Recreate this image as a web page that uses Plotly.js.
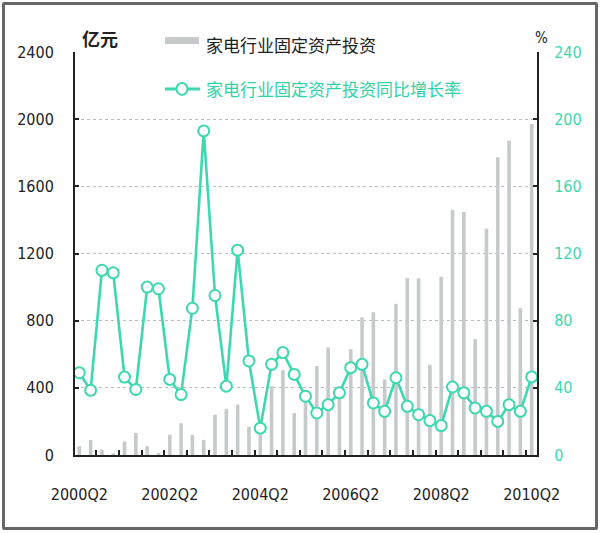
<!DOCTYPE html>
<html>
<head>
<meta charset="utf-8">
<script src="https://cdn.plot.ly/plotly-3.0.1.min.js"></script>
<style>
  html, body { margin: 0; padding: 0; background: #ffffff; }
  #chart { position: absolute; left: 0; top: 0; width: 600px; height: 533px; }
  #frame { position: absolute; left: 2px; top: 2px; width: 596px; height: 528px;
           box-sizing: border-box; border: 3px solid #666; border-radius: 2px; pointer-events: none; }
</style>
</head>
<body>
<div id="chart"></div>
<div id="frame"></div>
<script>
// Quarters (x categories)
const categories = [
  '2000Q2','2000Q3','2000Q4','2001Q1','2001Q2','2001Q3','2001Q4','2002Q1',
  '2002Q2','2002Q3','2002Q4','2003Q1','2003Q2','2003Q3','2003Q4','2004Q1',
  '2004Q2','2004Q3','2004Q4','2005Q1','2005Q2','2005Q3','2005Q4','2006Q1',
  '2006Q2','2006Q3','2006Q4','2007Q1','2007Q2','2007Q3','2007Q4','2008Q1',
  '2008Q2','2008Q3','2008Q4','2009Q1','2009Q2','2009Q3','2009Q4','2010Q1',
  '2010Q2'
];
// 家电行业固定资产投资 (亿元)
const investment = [
  52, 90, 31, 10, 80, 132, 52, 12,
  120, 189, 120, 90, 240, 275, 300, 168,
  120, 410, 505, 250, 330, 530, 640, 370,
  630, 820, 850, 450, 900, 1052, 1052, 537,
  1061, 1461, 1447, 690, 1348, 1773, 1872, 874,
  1971
];
// 家电行业固定资产投资同比增长率 (%)
const growth = [
  49, 38.5, 110, 108.5, 46.4, 39, 100, 99,
  45, 36, 87.4, 193, 95, 41, 122, 56,
  16, 54, 61, 48, 35, 25, 30, 37,
  52, 54, 31, 26, 46, 29, 24, 20.5,
  17.5, 40.5, 37, 28, 26, 20, 30, 26,
  46.5
];
const tickLabels = ['2000Q2','2002Q2','2004Q2','2006Q2','2008Q2','2010Q2'];
const leftTicks = [0, 400, 800, 1200, 1600, 2000, 2400];
const rightTicks = [0, 40, 80, 120, 160, 200, 240];

const seriesNames = ['家电行业固定资产投资', '家电行业固定资产投资同比增长率'];
const unitLeft = '亿元';
const unitRight = '%';

const TEAL = '#3ed8b0';
const BARC = '#c6cacb';
const NUMFONT = '"Liberation Sans Narrow", "DejaVu Sans Condensed", "Arial Narrow", sans-serif';
const CJK = '"Noto Sans CJK SC", "Noto Sans", sans-serif';

const xs = categories.map((c, i) => i);
const tickvals = tickLabels.map(l => categories.indexOf(l));

const traces = [
  {
    type: 'bar', name: seriesNames[0], x: xs, y: investment, yaxis: 'y',
    width: 0.32, marker: { color: BARC, line: { width: 0 } },
    hovertext: categories, showlegend: false
  },
  {
    type: 'scatter', name: seriesNames[1], x: xs, y: growth, yaxis: 'y2',
    mode: 'lines+markers',
    line: { color: TEAL, width: 2.6 },
    marker: { symbol: 'circle', size: 11, color: '#ffffff', line: { color: TEAL, width: 2 } },
    hovertext: categories, showlegend: false
  }
];

// paper coordinate helpers for legend placement (plot area: x 75..537, y 52..455.5)
const px = v => (v - 75) / 462;
const py = v => (455.5 - v) / 403.5;

const layout = {
  width: 600, height: 533,
  margin: { l: 75, r: 63, t: 52, b: 78, pad: 0 },
  paper_bgcolor: '#ffffff', plot_bgcolor: '#ffffff',
  showlegend: false,
  font: { family: NUMFONT, color: '#222' },
  xaxis: {
    range: [-0.38, 40.47], tickmode: 'array', tickvals: tickvals, ticktext: tickLabels,
    ticks: '', showline: true, linecolor: '#222', linewidth: 2, showgrid: false, zeroline: false,
    tickfont: { family: NUMFONT, size: 16, color: '#222' }, ticklabelstandoff: 24,
    minor: { tickmode: 'linear', tick0: 1.5, dtick: 2, ticks: 'inside', ticklen: 5, tickwidth: 2, tickcolor: '#222', showgrid: false }
  },
  yaxis: {
    range: [0, 2400], tickmode: 'array', tickvals: leftTicks, ticktext: leftTicks.map(String),
    ticks: 'inside', ticklen: 4, tickwidth: 2, tickcolor: '#222',
    showline: true, linecolor: '#222', linewidth: 2, zeroline: false,
    showgrid: true, gridcolor: '#bdbdbd', gridwidth: 1, griddash: '3px,3px',
    tickfont: { family: NUMFONT, size: 16, color: '#222' }, ticklabelstandoff: 16
  },
  yaxis2: {
    overlaying: 'y', side: 'right', anchor: 'x',
    range: [0, 240], tickmode: 'array', tickvals: rightTicks, ticktext: rightTicks.map(String),
    ticks: 'inside', ticklen: 4, tickwidth: 2, tickcolor: '#222',
    showline: true, linecolor: '#222', linewidth: 2, zeroline: false, showgrid: false,
    tickfont: { family: NUMFONT, size: 16, color: TEAL }, ticklabelstandoff: 12
  },
  shapes: [
    { type: 'rect', xref: 'paper', yref: 'paper', x0: px(165), x1: px(199), y0: py(44), y1: py(37),
      fillcolor: BARC, line: { width: 0 } },
    { type: 'line', xref: 'paper', yref: 'paper', x0: px(165), x1: px(200), y0: py(89), y1: py(89),
      line: { color: TEAL, width: 3 } },
    { type: 'circle', xref: 'paper', yref: 'paper', x0: px(176.5), x1: px(187.5), y0: py(95), y1: py(83),
      fillcolor: '#ffffff', line: { color: TEAL, width: 2 } }
  ],
  annotations: [
    { text: unitLeft, xref: 'paper', yref: 'paper', x: px(80), y: py(38), xanchor: 'left', yanchor: 'middle',
      showarrow: false, font: { family: CJK, size: 18, color: '#222', weight: 'bold' } },
    { text: unitRight, xref: 'paper', yref: 'paper', x: px(541), y: py(38), xanchor: 'center', yanchor: 'middle',
      showarrow: false, font: { family: NUMFONT, size: 15, color: '#222' } },
    { text: seriesNames[0], xref: 'paper', yref: 'paper', x: px(204), y: py(44), xanchor: 'left', yanchor: 'middle',
      showarrow: false, font: { family: CJK, size: 17, color: '#222' } },
    { text: seriesNames[1], xref: 'paper', yref: 'paper', x: px(204), y: py(89), xanchor: 'left', yanchor: 'middle',
      showarrow: false, font: { family: CJK, size: 17, color: '#2fd3a6' } }
  ]
};

Plotly.newPlot('chart', traces, layout, { displayModeBar: false, staticPlot: true });
</script>
</body>
</html>
